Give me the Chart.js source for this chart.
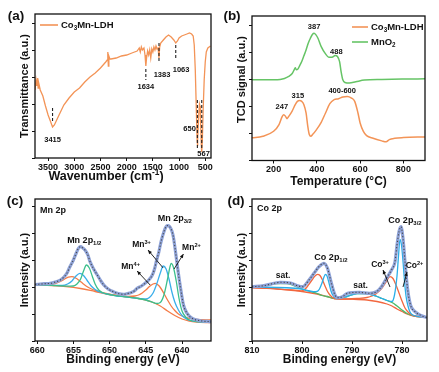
<!DOCTYPE html>
<html><head><meta charset="utf-8">
<script src="https://cdn.jsdelivr.net/npm/chart.js@4/dist/chart.umd.min.js"></script>
<style>
html,body{margin:0;padding:0;background:#fff;}
#wrap{position:relative;width:439px;height:372px;overflow:hidden;background:#fff}
canvas{position:absolute;left:0;top:0}
</style></head><body>
<div id="wrap">
<canvas id="ca" width="439" height="372"></canvas>
<canvas id="cb" width="439" height="372"></canvas>
<canvas id="cc" width="439" height="372"></canvas>
<canvas id="cd" width="439" height="372"></canvas>
</div>
<script>
// ---------- (a) FTIR ----------
const ftirWavenumber = [3750,3730,3715,3700,3690,3675,3650,3600,3550,3500,3450,3415,3380,3300,3200,3100,3000,2950,2900,2800,2700,2600,2500,2400,2370,2360,2350,2340,2320,2300,2200,2100,2000,1900,1800,1760,1740,1720,1700,1670,1650,1634,1620,1600,1580,1560,1540,1520,1500,1480,1460,1440,1420,1400,1383,1370,1350,1300,1250,1200,1150,1100,1063,1030,1000,950,900,850,800,760,730,710,690,670,655,650,640,625,610,600,590,575,567,555,540,520,500,480,450,400];
const ftirTransmittance = [68,78,72,80,70,74,68,62,52,43,36,31,33,42,53,60,66,68,70,76,81,85,90,96,98,106,92,102,99,99,100,102,103,105,107,110,106,111,108,110,103,92,100,107,103,108,100,109,106,111,108,112,109,110,100,111,115,118,121,123,121,118,115,117,120,122,123,124,125,124,122,113,88,48,18,12,18,43,54,52,38,13,6,18,48,78,96,106,110,112];
const ftirTicks = [3500,3000,2500,2000,1500,1000,500];

// ---------- (b) H2-TPR ----------
const tprTempMnO2 = [100,200,230,250,270,285,295,300,305,312,320,330,340,350,360,370,380,387,395,405,420,440,455,470,485,495,505,512,520,530,550,580,620,700,800,900];
const tprMnO2 = [81,81,81.3,82.3,84.3,87,91,93,91,91.7,95,99.3,105,111,117.7,122.7,126.7,127.7,126.3,122.7,114.3,107,103.7,103.7,105.3,104.3,99.3,89.3,81,78.3,77.7,79,80.7,81.3,81.7,82];
const tprTempLDH = [100,150,200,225,240,247,255,262,270,285,300,310,320,330,340,350,358,365,372,380,395,420,440,460,480,500,520,540,560,575,590,600,615,630,660,700,720,735,760,800,900];
const tprLDH = [22.7,24.3,29.3,36,44.3,46,44.3,42,44.3,49.3,56,59.3,60.3,59.3,56,47.7,34.3,26,24.3,26,30,38.3,47.7,57,61,62,63.7,64.3,62.7,59.3,47.7,37.7,29.3,25,22.3,19.7,18.7,21,22.3,23,23.7];
const tprTicks = [200,400,600,800];

// ---------- (c) Mn 2p XPS ----------
const mnEnvE = [660.3,659,658.2,657.5,656.8,656.3,655.9,655.5,655,654.6,654.3,654,653.7,653.4,653,652.7,652.2,651.7,651.2,650.8,650.2,649.5,648.8,648.1,647.5,647,646.5,646.2,645.6,645.1,644.6,644.1,643.8,643.5,643.2,643,642.8,642.5,642.3,642.1,641.9,641.7,641.4,641.2,640.9,640.6,640.2,639.8,639.3,638.6,637.5,636];
const mnEnv = [56.5,57.3,57.7,59,61,64,67.7,74,81,88,92.7,94.3,93,91,86,79.3,72,66,60,56,52,49.3,47.5,46.7,47.5,48.5,50.5,52.7,55,57.7,61,66,72,81,89,96,102,109.3,113,115.3,115.5,114.3,110,104.3,89.3,72.7,52.7,36,27.7,22.7,20.3,19.3];
const mnBgE = [660.3,658,656,654,652,650,648,646,645,644,643,642,641,640,639,638,636];
const mnBg = [56,55.5,54.5,52.5,49.5,46.5,44.5,42.5,41,38.5,35,30,25.5,22,20,19,18.3];
const mn4E = [660.3,658.5,657.5,656.8,656.2,655.7,655.2,654.7,654.2,653.7,653.2,652.5,651.5,650.5,649.5,648.5,647.5,646.5,646,645.5,645,644.5,644,643.7,643.3,643,642.5,642,641.5,641,640.5,640,639,638,636];
const mn4 = [56.2,56.5,57.5,59.5,62,63.8,64.3,63,60.5,57.5,54.8,52,49.5,47.5,46,45,44.5,45,46,48,51,54.5,57,57.7,56,53.5,47.5,41,35,30.5,27,25,22.7,21.7,21];
const mn3E = [660.3,658,656.5,655.8,655.2,654.7,654.1,653.6,653.1,652.6,652,651.2,650,649,648,647,646,645,644.5,644,643.5,643,642.6,642.2,641.8,641.4,641,640.5,640,639.5,639,638,636];
const mn3 = [56.3,55.8,55.5,57,60,64.5,67.7,65.5,60.5,55.5,51.5,48.5,46.5,45,44.3,43.3,42.5,42,43.5,48,57,68,75,72,62,49,39,31,25.5,22.5,20.8,19.5,18.8];
const mn2E = [660.3,658,656,655,654.5,654,653.6,653.2,652.8,652.4,652,651.5,651,650,648,646,645,644,643.5,643,642.5,642,641.7,641.5,641.2,640.8,640.4,640,639.5,639,638,636];
const mn2 = [56.3,55.7,54.8,55,57,62,70,76,73,65,57,51,48.5,46.3,44.3,42.5,41,38.7,37.5,38.5,46,62,73,77.7,74,60,42,30,24,21,19.5,18.7];
const mnTicks = [660,655,650,645,640];

// ---------- (d) Co 2p XPS ----------
const coEnvE = [810,807.6,805.6,804.3,802.3,800.9,799.9,798.6,797.6,796.6,795.6,794.9,794.2,793.4,792.9,791.9,790.9,788.5,786.5,785.1,784.1,783.1,782.1,781.4,781,780.6,780.2,779.8,779.4,778.9,778.3,777.4,776.1,775];
const coEnv = [54.3,55.3,57.7,58.7,58,55.3,54.3,61,67.7,74.3,77.7,72.7,59.3,46,43.3,44.3,47.7,48.7,47.7,49.3,54.3,62.7,71,79.3,96,109.3,114.3,102.7,79.3,52.7,36,29.3,25.3,23.3];
const coBgE = [810,805,800,797,795,793.5,790,787,785,783,782,781,780,779,778,777,775];
const coBg = [53.5,52,49.5,47,44.5,42.5,41.8,41,39.5,37,35,32,29.5,27,25.3,24.5,24];
const coSatE = [810,807,805,803,801,800,799,798,797,796,795,794,793,791,789,787,786,785,784,783,782,781,780,779,778,777,775];
const coSat = [54,55.5,57.5,57.5,54,52,50.5,49,47.5,45.5,44.5,43,42.5,44.5,47.5,47.5,46,44.5,42.5,40.5,38.5,35,31,27.5,25.5,24.6,24];
const co2E = [810,800,799,798,797.5,797,796.5,796,795.6,795.3,795,794.6,794.2,793.8,793,791,789,787,786,785,784,783,782,781.5,781,780.7,780.4,780.1,779.8,779.5,779.2,778.8,778.4,778,777,775];
const co2 = [54,52,50.5,49.5,49.3,49.5,52,58,64,66.7,65,58,50,45.5,42.5,44.5,47.5,47.5,46,44.5,42.5,40.5,39.5,46,65,85,101.7,96,80,60,45,35,29,26.5,24.7,24];
const co3E = [810,801,800,799.5,799,798.5,798,797.5,796.9,796.4,795.9,795.4,795,794.5,794,793.5,791,789,787,786,785,784,783.2,782.4,781.8,781.2,780.6,780,779.4,778.8,778.2,777.5,776,775];
const co3 = [53.5,50.5,50,51.5,54,57.5,61,64.5,66.7,65.5,61,55,50.5,46.5,44,42.5,42,42.5,43.5,45,48,53,59,64.3,62.5,56,48,40,33,29,26.5,25,24.2,24];
const coTicks = [810,800,790,780];

const yTickVals = [0,27,54,81,108,135];

// ---------- helpers ----------
const FAM = '"Liberation Sans", Arial, Helvetica, sans-serif';
Chart.defaults.font.family = FAM;

function drawParts(ctx, parts, x, y, size, align, rot) {
  const small = size * 0.66;
  let w = 0;
  parts.forEach(p => { ctx.font = 'bold ' + (p[1] ? small : size) + 'px ' + FAM; w += ctx.measureText(p[0]).width; });
  ctx.save();
  ctx.translate(x, y);
  if (rot) ctx.rotate(rot);
  let cx = align === 'left' ? 0 : (align === 'right' ? -w : -w / 2);
  ctx.textBaseline = 'middle'; ctx.textAlign = 'left';
  parts.forEach(p => {
    const s = p[1] ? small : size;
    ctx.font = 'bold ' + s + 'px ' + FAM;
    const dy = p[1] === 1 ? size * 0.3 : (p[1] === 2 ? -size * 0.32 : 0);
    ctx.fillText(p[0], cx, dy);
    cx += ctx.measureText(p[0]).width;
  });
  ctx.restore();
}

const decoPlugin = {
  id: 'deco',
  afterDraw(chart, args, o) {
    const ctx = chart.ctx, a = chart.chartArea, sx = chart.scales.x, sy = chart.scales.y;
    const px = v => sx.getPixelForValue(v), py = v => sy.getPixelForValue(v);
    ctx.save();
    ctx.setLineDash([]);
    ctx.strokeStyle = '#111'; ctx.lineWidth = 1.3;
    ctx.strokeRect(a.left, a.top, a.right - a.left, a.bottom - a.top);
    ctx.fillStyle = '#111';
    (o.marks || []).forEach(m => {
      ctx.strokeStyle = '#222'; ctx.lineWidth = 1.1; ctx.setLineDash([3, 2]);
      ctx.beginPath(); ctx.moveTo(px(m.x), py(m.y0)); ctx.lineTo(px(m.x), py(m.y1)); ctx.stroke();
    });
    ctx.setLineDash([]);
    (o.arrows || []).forEach(r => {
      const x0 = px(r.x0), y0 = py(r.y0), x1 = px(r.x1), y1 = py(r.y1);
      ctx.strokeStyle = '#111'; ctx.lineWidth = 0.9;
      ctx.beginPath(); ctx.moveTo(x1, y1); ctx.lineTo(x0, y0); ctx.stroke();
      const ang = Math.atan2(y0 - y1, x0 - x1), L = 4, W = 1.8;
      ctx.beginPath(); ctx.moveTo(x0, y0);
      ctx.lineTo(x0 - L * Math.cos(ang) + W * Math.sin(ang), y0 - L * Math.sin(ang) - W * Math.cos(ang));
      ctx.lineTo(x0 - L * Math.cos(ang) - W * Math.sin(ang), y0 - L * Math.sin(ang) + W * Math.cos(ang));
      ctx.closePath(); ctx.fill();
    });
    (o.legend || []).forEach(l => {
      ctx.strokeStyle = l.color; ctx.lineWidth = 1.6;
      ctx.beginPath(); ctx.moveTo(a.left + l.x, a.top + l.y); ctx.lineTo(a.left + l.x + l.len, a.top + l.y); ctx.stroke();
      ctx.fillStyle = '#111';
      drawParts(ctx, l.p, a.left + l.x + l.len + 3, a.top + l.y, l.size, 'left');
    });
    ctx.fillStyle = '#111';
    (o.texts || []).forEach(t => {
      const x = t.rel ? a.left + t.x : px(t.x);
      const y = t.rel ? a.top + t.y : py(t.y);
      drawParts(ctx, t.p, x, y, t.size, t.align || 'center', t.rot || 0);
    });
    ctx.restore();
  }
};

const pts = (xs, ys) => xs.map((x, i) => ({x: x, y: ys[i]}));
function ds(xs, ys, color, width, extra) {
  return Object.assign({data: pts(xs, ys), borderColor: color, backgroundColor: color, borderWidth: width,
    pointRadius: 0, fill: false, cubicInterpolationMode: 'monotone'}, extra || {});
}

function makeChart(id, c) {
  return new Chart(document.getElementById(id), {
    type: 'line',
    data: {datasets: c.datasets},
    options: {
      responsive: false, animation: false, devicePixelRatio: 1,
      layout: {padding: c.pad},
      plugins: {legend: {display: false}, tooltip: {enabled: false}, deco: c.deco},
      elements: {point: {radius: 0}},
      scales: {
        x: {
          type: 'linear', min: c.xMin, max: c.xMax, reverse: c.rev,
          afterBuildTicks: s => { s.ticks = c.xTicks.map(v => ({value: v})); },
          afterFit: s => { s.height = c.xH; s.paddingLeft = 0; s.paddingRight = 0; },
          grid: {drawOnChartArea: false, drawTicks: true, tickLength: 3, color: '#111', lineWidth: 1},
          border: {display: false},
          ticks: {color: '#111', font: {size: 9, weight: 'bold'}, padding: 1, maxRotation: 0, autoSkip: false,
                  callback: v => String(v)},
          title: {display: !!c.xTitle, text: c.xTitle || '', color: '#111', font: {size: 12, weight: 'bold'}, padding: {top: 0, bottom: c.xTitlePad}}
        },
        y: {
          type: 'linear', min: c.yMin, max: c.yMax,
          afterBuildTicks: s => { s.ticks = yTickVals.filter(v => v <= c.yMax).map(v => ({value: v})); },
          afterFit: s => { s.width = c.yW; s.paddingTop = 0; s.paddingBottom = 0; },
          grid: {drawOnChartArea: false, drawTicks: true, tickLength: 3, color: '#111', lineWidth: 1},
          border: {display: false},
          ticks: {display: false},
          title: {display: !!c.yTitle, text: c.yTitle || '', color: '#111', font: {size: 11, weight: 'bold'}, padding: {top: c.yTitlePad, bottom: 0}}
        }
      }
    },
    plugins: [decoPlugin]
  });
}

const OR_A = '#f39457', GR_B = '#66c466';
const ENV = '#8fa3d8', DOT = '#4a4a4a';

// (a)
makeChart('ca', {
  pad: {left: 0, top: 14, right: 228, bottom: 186},
  xMin: 390, xMax: 3750, rev: true, xTicks: ftirTicks, xH: 28, xTitlePad: 1.8,
  yMin: 0, yMax: 144, yW: 35, yTitlePad: 18.4,
  xTitle: null, yTitle: 'Transmittance (a.u.)',
  datasets: [ds(ftirWavenumber, ftirTransmittance, OR_A, 1.3, {cubicInterpolationMode: 'default', tension: 0})],
  deco: {
    legend: [{x: 5, y: 11, len: 18, color: OR_A, size: 9.5, p: [['Co', 0], ['3', 1], ['Mn-LDH', 0]]}],
    marks: [{x: 3415, y0: 50, y1: 35}, {x: 1634, y0: 89, y1: 78}, {x: 1383, y0: 115, y1: 95},
            {x: 1063, y0: 113, y1: 98}, {x: 650, y0: 58, y1: 10}, {x: 567, y0: 58, y1: 10}],
    texts: [
      {p: [['(a)', 0]], rel: true, x: -19, y: 2, size: 13.5},
      {p: [['Wavenumber (cm', 0], ['-1', 2], [')', 0]], rel: true, x: 71, y: 163, size: 12.5},
      {p: [['3415', 0]], x: 3415, y: 18, size: 7.5},
      {p: [['1634', 0]], x: 1634, y: 71, size: 7.5},
      {p: [['1383', 0]], x: 1326, y: 83, size: 7.5},
      {p: [['1063', 0]], x: 961, y: 88, size: 7.5},
      {p: [['650', 0]], x: 680, y: 29, size: 7.5, align: 'right'},
      {p: [['567', 0]], x: 531, y: 4, size: 7.5}
    ]
  }
});

// (b)
makeChart('cb', {
  pad: {left: 219, top: 16, right: 14, bottom: 180},
  xMin: 100, xMax: 900, rev: false, xTicks: tprTicks, xH: 31.5, xTitlePad: 3.1,
  yMin: 0, yMax: 145, yW: 33, yTitlePad: 16.1,
  xTitle: 'Temperature (\u00B0C)', yTitle: null,
  datasets: [ds(tprTempLDH, tprLDH, OR_A, 1.5), ds(tprTempMnO2, tprMnO2, GR_B, 1.5)],
  deco: {
    legend: [{x: 100, y: 11, len: 16, color: OR_A, size: 9.5, p: [['Co', 0], ['3', 1], ['Mn-LDH', 0]]},
             {x: 100, y: 26, len: 16, color: GR_B, size: 9.5, p: [['MnO', 0], ['2', 1]]}],
    texts: [
      {p: [['(b)', 0]], rel: true, x: -20, y: 0.5, size: 13.5},
      {p: [['TCD signal (a.u.)', 0]], rel: true, x: -10.3, y: 63.5, size: 11, rot: -Math.PI / 2},
      {p: [['387', 0]], x: 387, y: 134, size: 7.5},
      {p: [['488', 0]], x: 490, y: 109, size: 7.5},
      {p: [['247', 0]], x: 238, y: 54, size: 7.5},
      {p: [['315', 0]], x: 312, y: 65, size: 7.5},
      {p: [['400-600', 0]], x: 517, y: 70, size: 7.5}
    ]
  }
});

// (c)
makeChart('cc', {
  pad: {left: 0, top: 199, right: 228, bottom: 0},
  xMin: 636, xMax: 660.3, rev: true, xTicks: mnTicks, xH: 31, xTitlePad: 5.5,
  yMin: 0, yMax: 142, yW: 35, yTitlePad: 18.4,
  xTitle: 'Binding energy (eV)', yTitle: 'Intensity (a.u.)',
  datasets: [
    ds(mnEnvE, mnEnv, DOT, 1.1, {borderDash: [1.2, 2]}),
    ds(mnEnvE, mnEnv, ENV, 3.2),
    ds(mn2E, mn2, '#3cbf8c', 1.3),
    ds(mn3E, mn3, '#3aaeea', 1.3),
    ds(mn4E, mn4, '#f47c48', 1.3),
    ds(mnBgE, mnBg, '#f47c48', 1.3)
  ],
  deco: {
    arrows: [{x0: 644.7, y0: 91, x1: 642.6, y1: 73}, {x0: 639.8, y0: 87, x1: 641.1, y1: 72}, {x0: 646.2, y0: 70, x1: 644.4, y1: 56}],
    texts: [
      {p: [['(c)', 0]], rel: true, x: -20, y: 2, size: 13.5},
      {p: [['Mn 2p', 0]], rel: true, x: 5, y: 12, size: 9, align: 'left'},
      {p: [['Mn 2p', 0], ['1/2', 1]], x: 653.5, y: 100, size: 9},
      {p: [['Mn 2p', 0], ['3/2', 1]], x: 641.0, y: 122, size: 9},
      {p: [['Mn', 0], ['3+', 2]], x: 645.6, y: 96, size: 8.5},
      {p: [['Mn', 0], ['2+', 2]], x: 638.7, y: 93, size: 8.5},
      {p: [['Mn', 0], ['4+', 2]], x: 647.1, y: 74, size: 8.5}
    ]
  }
});

// (d)
makeChart('cd', {
  pad: {left: 219, top: 199, right: 12, bottom: 0},
  xMin: 775, xMax: 810, rev: true, xTicks: coTicks, xH: 31, xTitlePad: 5.5,
  yMin: 0, yMax: 142, yW: 33, yTitlePad: 16.1,
  xTitle: 'Binding energy (eV)', yTitle: 'Intensity (a.u.)',
  datasets: [
    ds(coEnvE, coEnv, DOT, 1.1, {borderDash: [1.2, 2]}),
    ds(coEnvE, coEnv, ENV, 3.2),
    ds(co2E, co2, '#2aaee8', 1.3),
    ds(co3E, co3, '#f2673f', 1.3),
    ds(coSatE, coSat, '#4cbb6a', 1.3),
    ds(coBgE, coBg, '#f2673f', 1.3)
  ],
  deco: {
    arrows: [{x0: 783.8, y0: 71, x1: 782.4, y1: 54}, {x0: 779, y0: 69, x1: 779.8, y1: 54}],
    texts: [
      {p: [['(d)', 0]], rel: true, x: -16, y: 2, size: 13.5},
      {p: [['Co 2p', 0]], rel: true, x: 5, y: 10, size: 9, align: 'left'},
      {p: [['Co 2p', 0], ['1/2', 1]], x: 794.2, y: 83, size: 9},
      {p: [['Co 2p', 0], ['3/2', 1]], x: 779.4, y: 120, size: 9},
      {p: [['sat.', 0]], x: 803.8, y: 65, size: 8.5},
      {p: [['sat.', 0]], x: 788.3, y: 55, size: 8.5},
      {p: [['Co', 0], ['3+', 2]], x: 784.4, y: 76, size: 8.5},
      {p: [['Co', 0], ['2+', 2]], x: 777.5, y: 75, size: 8.5}
    ]
  }
});
</script>
</body></html>
